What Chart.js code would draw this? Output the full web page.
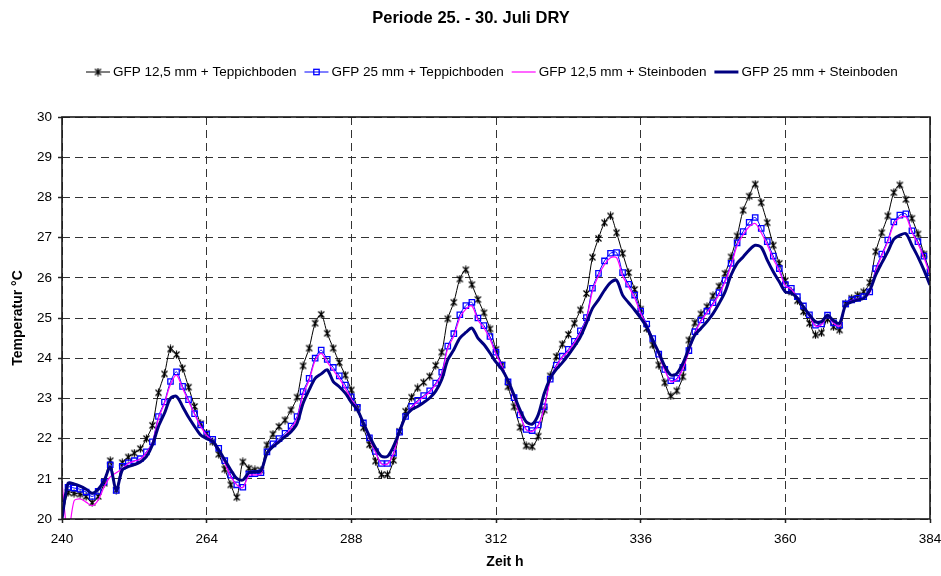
<!DOCTYPE html>
<html>
<head>
<meta charset="utf-8">
<title>Periode 25. - 30. Juli DRY</title>
<script src="https://cdn.jsdelivr.net/npm/chart.js@4.4.1/dist/chart.umd.min.js"></script>
<style>
  html, body { margin: 0; padding: 0; background: #fff; }
  canvas { display: block; }
</style>
</head>
<body>
<canvas id="chart" width="941" height="576"></canvas>
<script>
// hourly values, first value at hour 240
const FIRST_HOUR = 240;
const xTicks = [240, 264, 288, 312, 336, 360, 384];
const yTicks = [20, 21, 22, 23, 24, 25, 26, 27, 28, 29, 30];
const seriesNames = [
  "GFP 12,5 mm + Teppichboden",
  "GFP 25 mm + Teppichboden",
  "GFP 12,5 mm + Steinboden",
  "GFP 25 mm + Steinboden"
];

const gfp12Teppich = [
  20.00, 20.66, 20.64, 20.62, 20.56, 20.41, 20.56, 20.89, 21.45, 20.72, 21.40, 21.54, 21.64, 21.75, 22.00, 22.33, 23.14, 23.61, 24.23, 24.09, 23.75, 23.28, 22.80, 22.37,
  22.13, 21.92, 21.61, 21.24, 20.85, 20.54, 21.42, 21.26, 21.22, 21.21, 21.84, 22.11, 22.30, 22.46, 22.71, 23.03, 23.81, 24.25, 24.87, 25.09, 24.62, 24.25, 23.89, 23.58,
  23.21, 22.76, 22.27, 21.85, 21.44, 21.10, 21.10, 21.46, 22.18, 22.68, 23.03, 23.26, 23.40, 23.55, 23.82, 24.15, 24.98, 25.39, 25.97, 26.20, 25.83, 25.46, 25.13, 24.73,
  24.22, 23.83, 23.29, 22.79, 22.28, 21.82, 21.80, 22.06, 22.71, 23.56, 24.04, 24.35, 24.59, 24.87, 25.20, 25.61, 26.51, 26.98, 27.37, 27.54, 27.12, 26.61, 26.13, 25.71,
  25.22, 24.74, 24.33, 23.83, 23.39, 23.06, 23.19, 23.54, 24.45, 24.88, 25.10, 25.28, 25.55, 25.79, 26.11, 26.52, 27.04, 27.68, 28.03, 28.33, 27.87, 27.37, 26.81, 26.36,
  25.93, 25.65, 25.43, 25.16, 24.87, 24.58, 24.63, 24.97, 24.78, 24.70, 25.35, 25.49, 25.57, 25.65, 25.88, 26.65, 27.12, 27.54, 28.12, 28.31, 27.95, 27.48, 27.09, 26.59, 26.15
];
const gfp25Teppich = [
  20.00, 20.79, 20.77, 20.74, 20.67, 20.56, 20.69, 20.92, 21.35, 20.71, 21.31, 21.40, 21.45, 21.50, 21.67, 21.92, 22.55, 22.91, 23.42, 23.66, 23.30, 22.97, 22.62, 22.34,
  22.11, 21.98, 21.76, 21.45, 21.09, 20.85, 20.79, 21.12, 21.13, 21.15, 21.67, 21.87, 22.00, 22.13, 22.31, 22.55, 23.17, 23.50, 24.00, 24.20, 23.97, 23.77, 23.56, 23.33,
  23.04, 22.78, 22.39, 22.02, 21.68, 21.38, 21.38, 21.64, 22.16, 22.55, 22.80, 22.95, 23.07, 23.19, 23.38, 23.65, 24.30, 24.61, 25.08, 25.31, 25.39, 25.00, 24.81, 24.54,
  24.15, 23.83, 23.41, 23.02, 22.59, 22.23, 22.20, 22.34, 22.79, 23.48, 23.83, 24.05, 24.22, 24.42, 24.68, 25.01, 25.74, 26.11, 26.42, 26.61, 26.63, 26.13, 25.84, 25.57,
  25.17, 24.85, 24.49, 24.10, 23.72, 23.44, 23.50, 23.77, 24.19, 24.66, 24.95, 25.17, 25.38, 25.63, 25.94, 26.36, 26.87, 27.15, 27.38, 27.50, 27.23, 26.90, 26.54, 26.23,
  25.83, 25.74, 25.53, 25.30, 25.08, 24.82, 24.85, 25.07, 24.88, 24.82, 25.35, 25.45, 25.49, 25.53, 25.65, 26.23, 26.59, 26.94, 27.39, 27.56, 27.59, 27.17, 26.90, 26.54, 26.13
];
const gfp12Stein = [
  20.90, 19.60, 20.45, 20.50, 20.42, 20.33, 20.47, 20.80, 21.05, 21.15, 21.25, 21.38, 21.44, 21.49, 21.65, 21.90, 22.50, 22.88, 23.35, 23.58, 23.25, 22.93, 22.60, 22.30,
  22.08, 21.95, 21.72, 21.40, 21.05, 20.85, 20.78, 21.08, 21.10, 21.12, 21.65, 21.82, 21.95, 22.08, 22.25, 22.50, 23.10, 23.45, 23.95, 24.12, 23.90, 23.70, 23.50, 23.25,
  22.98, 22.75, 22.37, 22.00, 21.66, 21.37, 21.37, 21.63, 22.15, 22.53, 22.77, 22.92, 23.04, 23.16, 23.35, 23.60, 24.25, 24.55, 25.00, 25.22, 25.30, 24.95, 24.75, 24.48,
  24.10, 23.80, 23.40, 23.00, 22.58, 22.22, 22.18, 22.32, 22.76, 23.45, 23.80, 24.02, 24.18, 24.38, 24.63, 24.96, 25.67, 26.05, 26.33, 26.50, 26.50, 26.05, 25.78, 25.50,
  25.12, 24.82, 24.47, 24.08, 23.70, 23.42, 23.47, 23.74, 24.16, 24.62, 24.92, 25.13, 25.34, 25.58, 25.90, 26.30, 26.80, 27.07, 27.27, 27.35, 27.12, 26.82, 26.47, 26.17,
  25.80, 25.72, 25.50, 25.27, 25.05, 24.80, 24.83, 25.05, 24.87, 24.80, 25.33, 25.43, 25.47, 25.50, 25.62, 26.18, 26.55, 26.90, 27.33, 27.50, 27.52, 27.13, 26.85, 26.50, 26.08
];
const gfp25Stein = [
  20.00, 20.89, 20.87, 20.82, 20.74, 20.64, 20.74, 20.96, 21.29, 20.71, 21.22, 21.30, 21.35, 21.42, 21.55, 21.84, 22.30, 22.63, 23.00, 23.05, 22.80, 22.53, 22.30, 22.09,
  22.00, 21.93, 21.72, 21.47, 21.22, 21.01, 20.97, 21.15, 21.17, 21.20, 21.63, 21.80, 21.92, 22.05, 22.17, 22.38, 22.88, 23.21, 23.50, 23.61, 23.71, 23.42, 23.29, 23.13,
  22.90, 22.72, 22.39, 22.06, 21.77, 21.56, 21.56, 21.81, 22.18, 22.55, 22.72, 22.80, 22.90, 23.01, 23.18, 23.47, 23.96, 24.21, 24.50, 24.64, 24.75, 24.50, 24.34, 24.13,
  23.90, 23.72, 23.44, 23.08, 22.71, 22.42, 22.36, 22.59, 23.12, 23.50, 23.72, 23.89, 24.08, 24.29, 24.53, 24.87, 25.24, 25.45, 25.69, 25.88, 25.94, 25.57, 25.38, 25.20,
  25.00, 24.78, 24.45, 24.14, 23.80, 23.58, 23.62, 23.87, 24.24, 24.58, 24.74, 24.91, 25.11, 25.36, 25.65, 26.07, 26.36, 26.52, 26.69, 26.81, 26.76, 26.44, 26.15, 25.90,
  25.65, 25.62, 25.49, 25.28, 25.08, 24.91, 24.91, 25.07, 24.93, 24.87, 25.32, 25.40, 25.45, 25.49, 25.69, 26.07, 26.37, 26.65, 26.96, 27.06, 27.10, 26.81, 26.52, 26.19, 25.82
];

const FONT = "'Liberation Sans', Arial, sans-serif";

// asterisk marker like the excel one
function makeStar() {
  const c = document.createElement("canvas");
  c.width = 9;
  c.height = 9;
  const g = c.getContext("2d");
  g.strokeStyle = "#000";
  g.lineWidth = 1.2;
  g.beginPath();
  g.moveTo(1.5, 1.5); g.lineTo(7.5, 7.5);
  g.moveTo(7.5, 1.5); g.lineTo(1.5, 7.5);
  g.moveTo(4.5, 0.5); g.lineTo(4.5, 8.5);
  g.stroke();
  return c;
}
const star = makeStar();

function toPoints(values) {
  return values.map((v, i) => ({ x: FIRST_HOUR + i, y: v }));
}

const styles = [
  { color: "#000000", width: 1, marker: "star", order: 4 },
  { color: "#0000ff", width: 1, marker: "square", order: 3 },
  { color: "#ff00ff", width: 1.2, marker: null, order: 2 },
  { color: "#000080", width: 3, marker: null, order: 1 }
];
const seriesValues = [gfp12Teppich, gfp25Teppich, gfp12Stein, gfp25Stein];

const datasets = seriesValues.map((vals, k) => {
  const st = styles[k];
  const ds = {
    label: seriesNames[k],
    data: toPoints(vals),
    borderColor: st.color,
    borderWidth: st.width,
    tension: 0.3,
    order: st.order,
    pointRadius: 0
  };
  if (st.marker === "star") {
    ds.pointStyle = star;
    ds.pointRadius = (ctx) => (ctx.dataIndex === 0 ? 0 : 4);
  } else if (st.marker === "square") {
    ds.pointStyle = "rect";
    ds.pointRadius = (ctx) => (ctx.dataIndex === 0 ? 0 : 3.8);
    ds.pointBorderColor = "#0000ff";
    ds.pointBackgroundColor = "rgba(0,0,0,0)";
    ds.pointBorderWidth = 1.3;
  }
  return ds;
});

// title, legend, axis titles and the plot frame
const decor = {
  id: "decor",
  afterDatasetsDraw(chart) {
    const { ctx, chartArea: a } = chart;
    ctx.save();
    ctx.strokeStyle = "#1a1a1a";
    ctx.lineWidth = 1.6;
    ctx.strokeRect(a.left, a.top, a.right - a.left, a.bottom - a.top);
    ctx.restore();
  },
  afterDraw(chart) {
    const { ctx, chartArea: a } = chart;
    ctx.save();
    ctx.fillStyle = "#000";
    ctx.textBaseline = "middle";

    ctx.font = "bold 16.5px " + FONT;
    ctx.textAlign = "center";
    ctx.fillText("Periode 25. - 30. Juli DRY", 471, 18);

    ctx.font = "bold 14px " + FONT;
    ctx.fillText("Zeit h", 505, 562);
    ctx.save();
    ctx.translate(18, (a.top + a.bottom) / 2);
    ctx.rotate(-Math.PI / 2);
    ctx.fillText("Temperatur °C", 0, 0);
    ctx.restore();

    // legend
    ctx.font = "13.5px " + FONT;
    ctx.textAlign = "left";
    let x = 86;
    const y = 72;
    seriesNames.forEach((name, k) => {
      const st = styles[k];
      ctx.strokeStyle = st.color;
      ctx.lineWidth = st.width;
      ctx.beginPath();
      ctx.moveTo(x, y);
      ctx.lineTo(x + 24, y);
      ctx.stroke();
      if (st.marker === "star") {
        ctx.drawImage(star, x + 12 - 4.5, y - 4.5);
      } else if (st.marker === "square") {
        ctx.lineWidth = 1.3;
        ctx.strokeRect(x + 12 - 2.7, y - 2.7, 5.4, 5.4);
      }
      ctx.fillStyle = "#000";
      ctx.fillText(name, x + 27, y);
      x += 27 + ctx.measureText(name).width + 8;
    });
    ctx.restore();
  }
};

new Chart(document.getElementById("chart"), {
  type: "line",
  data: { datasets },
  options: {
    responsive: false,
    animation: false,
    devicePixelRatio: 1,
    layout: { padding: { top: 117, right: 11, bottom: 0, left: 0 } },
    plugins: {
      legend: { display: false },
      title: { display: false },
      tooltip: { enabled: false }
    },
    scales: {
      x: {
        type: "linear",
        min: xTicks[0],
        max: xTicks[xTicks.length - 1],
        afterBuildTicks: (s) => { s.ticks = xTicks.map((v) => ({ value: v })); },
        afterFit: (s) => { s.height = 57; s.paddingLeft = 0; s.paddingRight = 0; },
        grid: { color: "#333", lineWidth: 1, tickLength: 4, tickColor: "#222", tickWidth: 1.5 },
        border: { display: false, dash: [8, 5] },
        ticks: { color: "#000", padding: 8, maxRotation: 0, font: { family: FONT, size: 13.5 } }
      },
      y: {
        min: yTicks[0],
        max: yTicks[yTicks.length - 1],
        afterBuildTicks: (s) => { s.ticks = yTicks.map((v) => ({ value: v })); },
        afterFit: (s) => { s.width = 62; s.paddingTop = 0; s.paddingBottom = 0; },
        grid: { color: "#333", lineWidth: 1, tickLength: 4, tickColor: "#222", tickWidth: 1.5 },
        border: { display: false, dash: [8, 5] },
        ticks: { color: "#000", padding: 6, font: { family: FONT, size: 13.5 } }
      }
    }
  },
  plugins: [decor]
});
</script>
</body>
</html>
